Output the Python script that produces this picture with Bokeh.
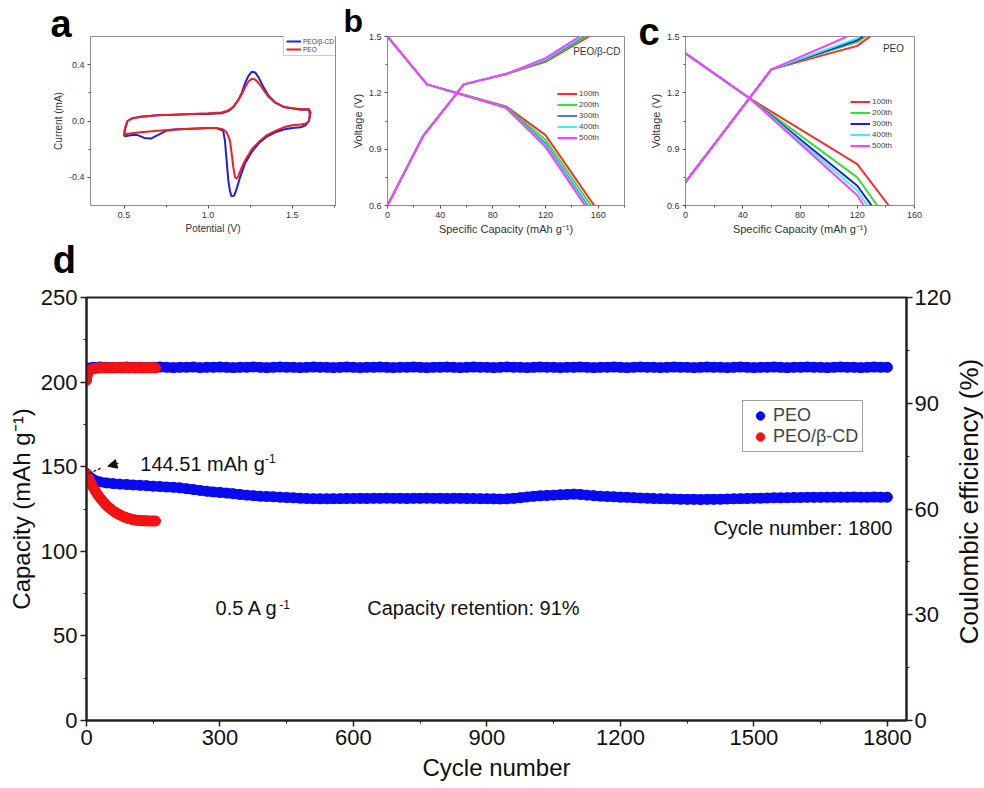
import math
from bokeh.plotting import figure
from bokeh.models import (Range1d, LinearAxis, FixedTicker, PrintfTickFormatter,
                          Legend, LegendItem, Label, Arrow, NormalHead)
from bokeh.layouts import row, column
from bokeh.embed import file_html
from bokeh.resources import INLINE

FONT = "Liberation Sans"

# ---------------- panel a : CV ----------------
cv_cd_v = [0.50, 0.505, 0.52, 0.55, 0.60, 0.70, 0.80, 0.90, 1.00, 1.08,
           1.12, 1.15, 1.18, 1.20, 1.22, 1.24, 1.26, 1.28, 1.30, 1.33,
           1.36, 1.40, 1.45, 1.50, 1.55, 1.60, 1.605, 1.60, 1.58, 1.55,
           1.50, 1.45, 1.40, 1.35, 1.30, 1.26, 1.22, 1.19, 1.17, 1.155,
           1.14, 1.13, 1.12, 1.11, 1.10, 1.09, 1.05, 1.00, 0.90, 0.80,
           0.75, 0.70, 0.66, 0.62, 0.58, 0.55, 0.52, 0.50]
cv_cd_i = [-0.11, -0.06, 0.0, 0.02, 0.03, 0.04, 0.045, 0.05, 0.05, 0.055,
           0.07, 0.10, 0.15, 0.20, 0.27, 0.32, 0.35, 0.345, 0.31, 0.24,
           0.18, 0.13, 0.10, 0.09, 0.08, 0.08, 0.05, 0.0, -0.03, -0.045,
           -0.05, -0.06, -0.08, -0.11, -0.16, -0.22, -0.30, -0.40, -0.48, -0.53,
           -0.535, -0.50, -0.42, -0.28, -0.14, -0.07, -0.05, -0.05, -0.055, -0.06,
           -0.07, -0.10, -0.125, -0.12, -0.10, -0.10, -0.105, -0.11]
cv_peo_v = [0.50, 0.505, 0.52, 0.55, 0.60, 0.70, 0.80, 0.90, 1.00, 1.08,
            1.12, 1.15, 1.18, 1.20, 1.22, 1.24, 1.26, 1.28, 1.30, 1.33,
            1.36, 1.40, 1.45, 1.50, 1.55, 1.60, 1.61, 1.60, 1.58, 1.55,
            1.50, 1.45, 1.40, 1.35, 1.30, 1.26, 1.22, 1.20, 1.18, 1.17,
            1.16, 1.15, 1.14, 1.13, 1.11, 1.09, 1.05, 1.00, 0.90, 0.80,
            0.70, 0.60, 0.52, 0.50]
cv_peo_i = [-0.10, -0.05, 0.0, 0.02, 0.03, 0.04, 0.045, 0.05, 0.055, 0.06,
            0.075, 0.10, 0.15, 0.19, 0.24, 0.28, 0.30, 0.295, 0.27, 0.22,
            0.17, 0.13, 0.10, 0.09, 0.085, 0.085, 0.06, 0.0, -0.02, -0.025,
            -0.03, -0.045, -0.07, -0.10, -0.15, -0.20, -0.28, -0.33, -0.39, -0.41,
            -0.40, -0.33, -0.23, -0.14, -0.08, -0.06, -0.05, -0.05, -0.055, -0.06,
            -0.07, -0.08, -0.09, -0.10]

# ---------------- panels b, c : GCD ----------------
cycle_labels = ["100th", "200th", "300th", "400th", "500th"]
b_colors = ["#ff2a2a", "#33e033", "#4b78e6", "#3ff0f0", "#ff3cff"]
c_colors = ["#ff2a2a", "#33e033", "#1f1fd0", "#3ff0f0", "#ff3cff"]

b_chg_cap = [[0, 27, 58, 90, 120, 153], [0, 27, 58, 90, 120, 151],
             [0, 27, 58, 90, 120, 149], [0, 27, 58, 90, 120, 147.5],
             [0, 27, 58, 90, 120, 146]]
b_chg_v = [[0.6, 0.97, 1.245, 1.30, 1.365, 1.5], [0.6, 0.97, 1.245, 1.30, 1.37, 1.5],
           [0.6, 0.97, 1.245, 1.30, 1.375, 1.5], [0.6, 0.97, 1.245, 1.30, 1.38, 1.5],
           [0.6, 0.97, 1.245, 1.30, 1.385, 1.5]]
b_dis_cap = [[0, 30, 90, 120, 157], [0, 30, 90, 120, 154.5], [0, 30, 90, 120, 152],
             [0, 30, 90, 120, 151], [0, 30, 90, 120, 150]]
b_dis_v = [[1.5, 1.245, 1.128, 0.975, 0.6], [1.5, 1.245, 1.125, 0.95, 0.6],
           [1.5, 1.245, 1.122, 0.93, 0.6], [1.5, 1.245, 1.12, 0.92, 0.6],
           [1.5, 1.245, 1.12, 0.912, 0.6]]

c_chg_cap = [[0, 60, 120, 129], [0, 60, 120, 126], [0, 60, 120, 124],
             [0, 60, 118, 122], [0, 60, 113]]
c_chg_v = [[0.725, 1.325, 1.45, 1.5], [0.725, 1.325, 1.47, 1.5], [0.725, 1.325, 1.48, 1.5],
           [0.725, 1.325, 1.485, 1.5], [0.725, 1.325, 1.5]]
c_dis_cap = [[0, 45, 120, 142], [0, 45, 120, 134], [0, 45, 120, 130],
             [0, 45, 120, 127], [0, 45, 120, 124.5]]
c_dis_v = [[1.41, 1.17, 0.82, 0.6], [1.41, 1.17, 0.75, 0.6], [1.41, 1.17, 0.705, 0.6],
           [1.41, 1.17, 0.68, 0.6], [1.41, 1.17, 0.655, 0.6]]

# ---------------- panel d : cycling ----------------
peo_cycles = list(range(0, 1801, 15))
peo_capacity = [146.0, 142.5, 141.0, 140.4, 140.0, 139.7, 139.5, 139.2, 139.0, 138.8,
                138.5, 138.3, 138.0, 137.8, 137.5, 137.0, 136.5, 136.0, 135.5, 135.1,
                134.8, 134.4, 134.0, 133.6, 133.2, 132.9, 132.6, 132.4, 132.2, 132.0,
                131.8, 131.6, 131.4, 131.2, 131.1, 131.0, 131.0, 131.1, 131.1, 131.2,
                131.2,
                131.3, 131.2, 131.3, 131.3, 131.4, 131.3, 131.3, 131.2, 131.3, 131.3,
                131.4, 131.3, 131.3, 131.2, 131.3, 131.3, 131.2, 131.2, 131.1, 131.1,
                131.0, 130.9, 131.0, 131.3, 131.7, 132.1, 132.5, 132.8, 133.0, 133.2,
                133.4, 133.6, 133.8, 133.6, 133.2, 132.9, 132.6, 132.4, 132.2, 132.0,
                131.9, 131.7, 131.5, 131.4, 131.2, 131.1, 131.0, 130.9, 130.8, 130.7,
                130.7, 130.6, 130.7, 130.7, 130.8, 130.9, 131.0, 131.1, 131.2, 131.3,
                131.4, 131.5, 131.6, 131.6, 131.7, 131.8, 131.8, 131.9, 131.9, 131.9,
                132.0, 132.0, 132.0, 132.0, 132.1, 132.0, 132.0, 132.1, 132.0, 132.0]
peo_ce = [100.0, 100.2, 100.3, 100.2, 100.1, 100.2, 100.3, 100.2, 100.2, 100.1, 100.2,
          100.3, 100.2, 100.1, 100.2, 100.2, 100.3, 100.1, 100.2, 100.2, 100.3, 100.2,
          100.1, 100.2, 100.2, 100.3, 100.2, 100.1, 100.2, 100.3, 100.2, 100.2, 100.1,
          100.2, 100.3, 100.2, 100.2, 100.1, 100.2, 100.3, 100.2, 100.1, 100.2, 100.2,
          100.3, 100.2, 100.1, 100.2, 100.2, 100.3, 100.2, 100.1, 100.2, 100.2, 100.3,
          100.2, 100.1, 100.2, 100.3, 100.2, 100.2, 100.1, 100.2, 100.3, 100.2, 100.2,
          100.1, 100.2, 100.3, 100.2, 100.2, 100.1, 100.2, 100.2, 100.3, 100.2, 100.1,
          100.2, 100.2, 100.3, 100.2, 100.1, 100.2, 100.3, 100.2, 100.2, 100.1, 100.2,
          100.3, 100.2, 100.2, 100.1, 100.2, 100.3, 100.2, 100.2, 100.1, 100.2, 100.3,
          100.2, 100.1, 100.2, 100.2, 100.3, 100.2, 100.1, 100.2, 100.2, 100.3, 100.2,
          100.2, 100.1, 100.2, 100.3, 100.2, 100.2, 100.1, 100.2, 100.3, 100.2, 100.2]
cd_cycles = list(range(0, 156, 5))
cd_capacity = [146.0, 143.0, 140.2, 137.8, 135.6, 133.6, 131.8, 130.1, 128.6, 127.2,
               126.0, 124.9, 123.9, 123.0, 122.2, 121.5, 120.9, 120.3, 119.8, 119.4,
               119.0, 118.7, 118.5, 118.3, 118.2, 118.1, 118.0, 118.0, 117.9, 117.9,
               117.9, 117.9]
cd_ce = [96.5, 99.0, 99.6, 99.8, 99.9, 100.0, 100.0, 100.1, 100.0, 100.1,
         100.0, 100.1, 100.1, 100.0, 100.1, 100.1, 100.0, 100.1, 100.1, 100.0,
         100.1, 100.1, 100.0, 100.1, 100.1, 100.0, 100.1, 100.1, 100.0, 100.1,
         100.1, 100.0]
x_ticks_d = [0, 300, 600, 900, 1200, 1500, 1800]
cap_ticks = [0, 50, 100, 150, 200, 250]
ce_ticks = [0, 30, 60, 90, 120]

BLUE = "#0a0af2"
RED = "#f21212"
TOP_PAD = 15   # extra room above the top row (pulled back with a negative margin)


def make_small(width, height, xr, yr, borders):
    p = figure(width=width, height=height, x_range=Range1d(*xr), y_range=Range1d(*yr),
               output_backend="svg", toolbar_location=None, title=None,
               min_border_left=borders[0], min_border_right=borders[1],
               min_border_top=borders[2], min_border_bottom=borders[3])
    p.grid.visible = False
    p.outline_line_color = "#8c8c8c"
    p.background_fill_color = "white"
    p.border_fill_color = "white"
    return p


def style_small_axes(p, xlabel, ylabel, lab_size):
    for ax in (p.xaxis[0], p.yaxis[0]):
        ax.axis_line_color = "#8c8c8c"
        ax.major_tick_line_color = "#555555"
        ax.minor_tick_line_color = "#555555"
        ax.major_tick_out = 3
        ax.major_tick_in = 0
        ax.minor_tick_out = 2
        ax.minor_tick_in = 0
        ax.major_label_text_font = FONT
        ax.major_label_text_font_size = "9px"
        ax.major_label_text_color = "#333333"
        ax.major_label_standoff = 3
        ax.axis_label_text_font = FONT
        ax.axis_label_text_font_size = lab_size
        ax.axis_label_text_font_style = "normal"
        ax.axis_label_text_color = "#333333"
        ax.axis_label_standoff = 2
    p.xaxis[0].axis_label = xlabel
    p.yaxis[0].axis_label = ylabel


def panel_letter(p, x, y, txt, size):
    # placed in the side panel so that it is not clipped to the frame
    p.add_layout(Label(x=x, y=y, text=txt, text_font=FONT, text_font_size=size,
                       text_font_style="bold", text_color="black"), "above")


# ----- panel a -----
pa = make_small(340, 240 + TOP_PAD, (0.3, 1.758), (-0.6, 0.6), (90, 5, 35 + TOP_PAD, 33))
style_small_axes(pa, "Potential (V)", "Current (mA)", "10px")
pa.xaxis.ticker = FixedTicker(ticks=[0.5, 1.0, 1.5], minor_ticks=[0.75, 1.25, 1.75])
pa.yaxis.ticker = FixedTicker(ticks=[-0.4, 0.0, 0.4], minor_ticks=[-0.2, 0.2])
pa.xaxis.formatter = PrintfTickFormatter(format="%.1f")
pa.yaxis.formatter = PrintfTickFormatter(format="%.1f")
ra1 = pa.line(cv_cd_v, cv_cd_i, line_color="#1f1fe6", line_width=2)
ra2 = pa.line(cv_peo_v, cv_peo_i, line_color="#f01e1e", line_width=2)
leg_a = Legend(items=[LegendItem(label="PEO/β-CD", renderers=[ra1]),
                      LegendItem(label="PEO", renderers=[ra2])],
               location=(193, 149), label_text_font=FONT, label_text_font_size="6.5px",
               glyph_width=15, glyph_height=8, label_height=8, label_standoff=2,
               padding=2, spacing=0, margin=0, border_line_color="#999999",
               background_fill_color="white")
pa.add_layout(leg_a)
panel_letter(pa, 0.062, 0.542, "a", "38px")

# ----- panel b -----
pb = make_small(290, 240 + TOP_PAD, (0, 180), (0.6, 1.5), (47, 6, 35 + TOP_PAD, 35))
style_small_axes(pb, "Specific Capacity (mAh g⁻¹)", "Voltage (V)", "11px")
pb.xaxis.ticker = FixedTicker(ticks=[0, 40, 80, 120, 160], minor_ticks=[20, 60, 100, 140, 180])
pb.yaxis.ticker = FixedTicker(ticks=[0.6, 0.9, 1.2, 1.5], minor_ticks=[0.75, 1.05, 1.35])
pb.yaxis.formatter = PrintfTickFormatter(format="%.1f")
items_b = []
for k in range(5):
    r1 = pb.line(b_dis_cap[k], b_dis_v[k], line_color=b_colors[k], line_width=2)
    pb.line(b_chg_cap[k], b_chg_v[k], line_color=b_colors[k], line_width=2)
    items_b.append(LegendItem(label=cycle_labels[k], renderers=[r1]))
leg_b = Legend(items=items_b, location=(170, 62), label_text_font=FONT,
               label_text_font_size="8px", glyph_width=20, glyph_height=11,
               label_height=11, label_standoff=2, padding=0, spacing=0, margin=0,
               border_line_color=None, background_fill_alpha=0)
pb.add_layout(leg_b)
pb.add_layout(Label(x=177, y=1.392, text="PEO/β-CD", text_align="right", text_font=FONT,
                    text_font_size="10px", text_color="#333333"))
panel_letter(pb, -33.4, 1.487, "b", "32px")

# ----- panel c -----
pc = make_small(354, 240 + TOP_PAD, (0, 160), (0.6, 1.5), (55, 70, 36 + TOP_PAD, 35))
style_small_axes(pc, "Specific Capacity (mAh g⁻¹)", "Voltage (V)", "11px")
pc.xaxis.ticker = FixedTicker(ticks=[0, 40, 80, 120, 160], minor_ticks=[20, 60, 100, 140])
pc.yaxis.ticker = FixedTicker(ticks=[0.6, 0.9, 1.2, 1.5], minor_ticks=[0.75, 1.05, 1.35])
pc.yaxis.formatter = PrintfTickFormatter(format="%.1f")
items_c = []
for k in range(5):
    r1 = pc.line(c_dis_cap[k], c_dis_v[k], line_color=c_colors[k], line_width=2)
    pc.line(c_chg_cap[k], c_chg_v[k], line_color=c_colors[k], line_width=2)
    items_c.append(LegendItem(label=cycle_labels[k], renderers=[r1]))
leg_c = Legend(items=items_c, location=(165, 54), label_text_font=FONT,
               label_text_font_size="8px", glyph_width=20, glyph_height=11,
               label_height=11, label_standoff=2, padding=0, spacing=0, margin=0,
               border_line_color=None, background_fill_alpha=0)
pc.add_layout(leg_c)
pc.add_layout(Label(x=145.3, y=1.407, text="PEO", text_align="center", text_font=FONT,
                    text_font_size="10px", text_color="#333333"))
panel_letter(pc, -32.8, 1.413, "c", "38px")

# ----- panel d -----
pd = figure(width=984, height=548, x_range=Range1d(0, 1843), y_range=Range1d(0, 250),
            output_backend="svg", toolbar_location=None, title=None,
            min_border_left=86, min_border_right=77, min_border_top=57, min_border_bottom=68)
pd.grid.visible = False
pd.outline_line_color = "#222222"
pd.outline_line_width = 2
pd.extra_y_ranges = {"ce": Range1d(0, 120)}
pd.add_layout(LinearAxis(y_range_name="ce"), "right")
pd.xaxis.axis_label = "Cycle number"
pd.yaxis[0].axis_label = "Capacity (mAh g⁻¹)"
pd.xaxis.ticker = FixedTicker(ticks=x_ticks_d, minor_ticks=[150, 450, 750, 1050, 1350, 1650])
pd.yaxis[0].ticker = FixedTicker(ticks=cap_ticks, minor_ticks=[25, 75, 125, 175, 225])
pd.yaxis[1].ticker = FixedTicker(ticks=ce_ticks, minor_ticks=[15, 45, 75, 105])
for ax in pd.xaxis + pd.yaxis:
    ax.axis_line_color = "#222222"
    ax.axis_line_width = 2
    ax.major_tick_line_color = "#222222"
    ax.major_tick_line_width = 1.5
    ax.minor_tick_line_color = "#222222"
    ax.major_tick_out = 6
    ax.major_tick_in = 0
    ax.minor_tick_out = 3
    ax.minor_tick_in = 0
    ax.major_label_text_font = FONT
    ax.major_label_text_font_size = "22px"
    ax.major_label_text_color = "#111111"
    ax.major_label_standoff = 3
    ax.axis_label_text_font = FONT
    ax.axis_label_text_font_size = "24px"
    ax.axis_label_text_font_style = "normal"
    ax.axis_label_text_color = "#111111"
    ax.axis_label_standoff = 3
pd.xaxis[0].axis_label_standoff = 6
pd.yaxis[1].major_label_standoff = 2

# right axis title, reading bottom-to-top like the reference (kept in the side panel)
pd.add_layout(Label(x=1984, y=129.4, text="Coulombic efficiency (%)", angle=math.pi / 2,
                    text_align="center", text_baseline="middle", text_font=FONT,
                    text_font_size="26px", text_color="#111111"), "right")

MS = 10
pd.line(peo_cycles, peo_ce, line_width=MS, line_color=BLUE, line_cap="round", y_range_name="ce")
r_peo_ce = pd.scatter(peo_cycles, peo_ce, size=MS, color=BLUE, y_range_name="ce")
pd.line(peo_cycles, peo_capacity, line_width=MS, line_color=BLUE, line_cap="round")
r_peo_cap = pd.scatter(peo_cycles, peo_capacity, size=MS, color=BLUE)
pd.line(cd_cycles, cd_ce, line_width=MS, line_color=RED, line_cap="round", y_range_name="ce")
r_cd_ce = pd.scatter(cd_cycles, cd_ce, size=MS, color=RED, y_range_name="ce")
pd.line(cd_cycles, cd_capacity, line_width=MS, line_color=RED, line_cap="round")
r_cd_cap = pd.scatter(cd_cycles, cd_capacity, size=MS, color=RED)

leg_d = Legend(items=[LegendItem(label="PEO", renderers=[r_peo_cap]),
                      LegendItem(label="PEO/β-CD", renderers=[r_cd_cap])],
               location=(656, 268), label_text_font=FONT, label_text_font_size="18px",
               glyph_width=26, glyph_height=21, label_height=21, label_standoff=0,
               padding=4, spacing=0, margin=0, border_line_color="#444444",
               border_line_width=1, background_fill_color="white")
pd.add_layout(leg_d)

# annotation: initial capacity
x0, y0 = peo_cycles[0], peo_capacity[0]
pd.add_layout(Arrow(end=None, x_start=x0 + 5, y_start=y0, x_end=x0 + 32, y_end=y0 + 3,
                    line_color="#111111", line_width=1.2, line_dash="3 2"))
pd.add_layout(Arrow(end=NormalHead(size=9, fill_color="#111111", line_color="#111111"),
                    x_start=x0 + 72, y_start=y0 + 6, x_end=x0 + 48, y_end=y0 + 4.3,
                    line_color="#111111", line_width=1))
ann_font = dict(text_font=FONT, text_color="#111111")
pd.add_layout(Label(x=121, y=145.0, text="144.51 mAh g", text_font_size="20px", **ann_font))
pd.add_layout(Label(x=401, y=152.1, text="-1", text_font_size="12px", **ann_font))
pd.add_layout(Label(x=1409, y=107.1, text="Cycle number: 1800", text_font_size="20px", **ann_font))
pd.add_layout(Label(x=290, y=59.8, text="0.5 A g", text_font_size="20px", **ann_font))
pd.add_layout(Label(x=433, y=65.8, text="-1", text_font_size="12px", **ann_font))
pd.add_layout(Label(x=631, y=59.8, text="Capacity retention: 91%", text_font_size="20px", **ann_font))
panel_letter(pd, -76, 259.9, "d", "38px")

top_row = row(pa, pb, pc, spacing=0, margin=(-TOP_PAD, 0, 0, 0))
layout = column(top_row, pd, spacing=0)
open("out.html", "w").write(file_html(layout, INLINE))
